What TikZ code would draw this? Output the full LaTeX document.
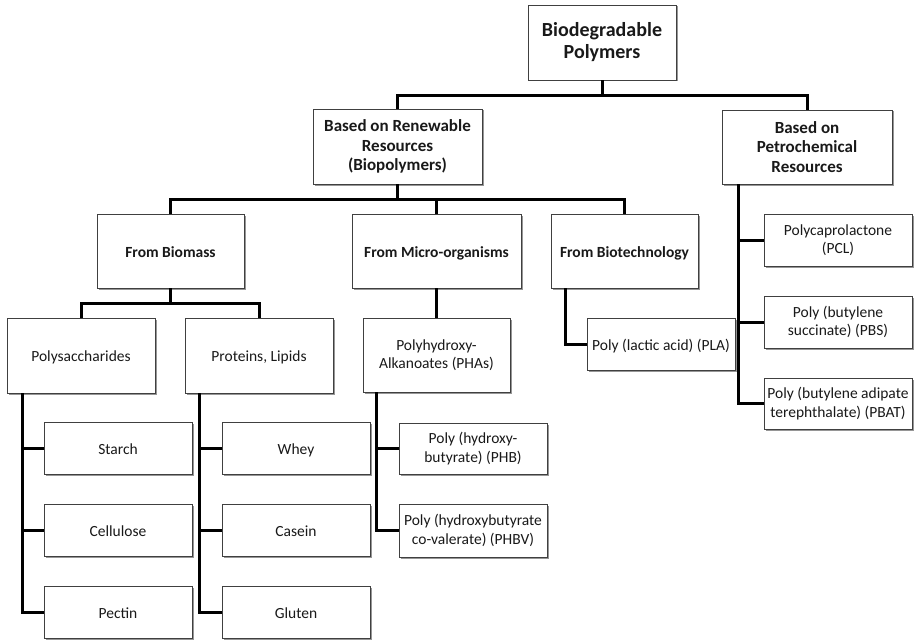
\documentclass[tikz,border=0pt]{standalone}
\usepackage{fontspec}
\setmainfont{Carlito}
\usetikzlibrary{shadows}
\begin{document}
\begin{tikzpicture}[x=1pt,y=-1pt,
  box/.style={draw=black!75, line width=0.9pt, fill=white, inner sep=2pt,
    align=center, text=black!90, font=\fontsize{15.5}{18.3}\selectfont,
    drop shadow={shadow xshift=1.5pt, shadow yshift=-1.5pt, fill=black!55, opacity=0.75}},
  topbox/.style={box, font=\fontsize{20}{22}\selectfont\bfseries},
  secbox/.style={box, font=\fontsize{17}{19.5}\selectfont\bfseries},
  srcbox/.style={box, font=\fontsize{15.5}{18.3}\selectfont\bfseries},
  big/.style={minimum width=148pt, minimum height=75pt},
  wide/.style={minimum width=169pt, minimum height=75pt},
  leaf/.style={box, minimum width=148pt, minimum height=52pt},
  oneline/.style={text height=12.5pt, text depth=0.5pt},
  conn/.style={draw=black, line width=3pt}]
\useasboundingbox (0,0) rectangle (917,639);

% level 1
\node[topbox, big] (top) at (602,42.5) {Biodegradable\\Polymers};
% level 2
\node[secbox, wide] (ren) at (397.5,146.5) {Based on Renewable\\Resources\\(Biopolymers)};
\node[secbox, minimum width=170pt, minimum height=74pt] (pet) at (807,147) {Based on\\Petrochemical\\Resources};
% level 3
\node[srcbox, oneline, minimum width=147pt, minimum height=74pt] (bio) at (170.5,251) {From Biomass};
\node[srcbox, oneline, minimum width=169pt, minimum height=74pt] (mic) at (436.5,251) {From Micro-organisms};
\node[srcbox, oneline, minimum width=147pt, minimum height=74pt] (tec) at (624.5,251) {From Biotechnology};
% level 4
\node[box, big, oneline] (pol) at (81,355.5) {Polysaccharides};
\node[box, big, oneline] (pro) at (259,355.5) {Proteins, Lipids};
\node[box, minimum width=147pt, minimum height=74pt] (pha) at (436.5,355) {Polyhydroxy-\\Alkanoates (PHAs)};
\node[leaf, oneline] (pla) at (661,344) {Poly (lactic acid) (PLA)};
\node[leaf] (pcl) at (838,240) {Polycaprolactone\\(PCL)};
\node[leaf] (pbs) at (838,322) {Poly (butylene\\succinate) (PBS)};
\node[leaf, minimum height=51pt] (pbat) at (838,403.5) {Poly (butylene adipate\\terephthalate) (PBAT)};
% leaves
\node[leaf, oneline] (sta) at (118,448) {Starch};
\node[leaf, oneline] (cel) at (118,530) {Cellulose};
\node[leaf, oneline] (pec) at (118,612) {Pectin};
\node[leaf, oneline] (whe) at (296,448) {Whey};
\node[leaf, oneline] (cas) at (296,530) {Casein};
\node[leaf, oneline] (glu) at (296,612) {Gluten};
\node[leaf, minimum height=51pt] (phb) at (473,448.5) {Poly (hydroxy-\\butyrate) (PHB)};
\node[leaf, minimum height=53pt] (phbv) at (473,530.5) {Poly (hydroxybutyrate\\co-valerate) (PHBV)};

% connectors
\draw[conn] (top.south) -- ++(0,15) coordinate (b1);
\draw[conn] (ren.north) |- (b1) -| (pet.north);
\draw[conn] (ren.south) -- ++(0,15.5) coordinate (b2);
\draw[conn] (bio.north) |- (b2) -| (tec.north);
\draw[conn] (mic.north) -- (mic.north |- b2);
\draw[conn] (bio.south) -- ++(0,15) coordinate (b3);
\draw[conn] (pol.north) |- (b3) -| (pro.north);
\draw[conn] (mic.south) -- (pha.north);
\draw[conn] ([xshift=15pt]tec.south west) |- (pla.west);

\coordinate (ps) at ([xshift=17pt]pet.south west);
\draw[conn] (ps) |- (pcl.west);
\draw[conn] (ps) |- (pbs.west);
\draw[conn] (ps) |- (pbat.west);

\coordinate (qs) at ([xshift=16pt]pol.south west);
\draw[conn] (qs) |- (sta.west);
\draw[conn] (qs) |- (cel.west);
\draw[conn] (qs) |- (pec.west);

\coordinate (rs) at ([xshift=15pt]pro.south west);
\draw[conn] (rs) |- (whe.west);
\draw[conn] (rs) |- (cas.west);
\draw[conn] (rs) |- (glu.west);

\coordinate (hs) at ([xshift=14pt]pha.south west);
\draw[conn] (hs) |- (phb.west);
\draw[conn] (hs) |- (phbv.west);
\end{tikzpicture}
\end{document}
